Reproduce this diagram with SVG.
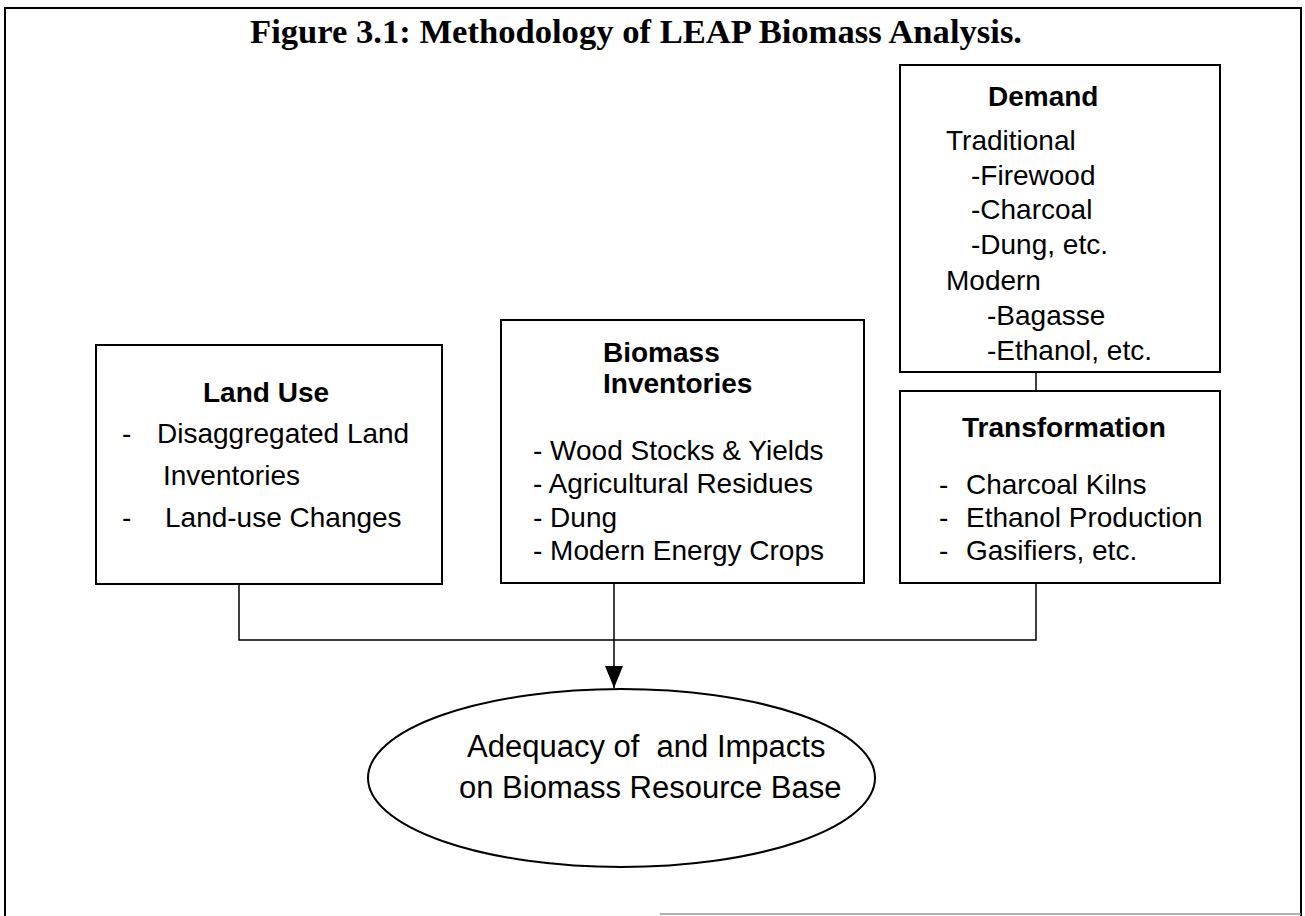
<svg xmlns="http://www.w3.org/2000/svg" width="1305" height="916" viewBox="0 0 1305 916">
<style>
.box{fill:#fff;stroke:#000;stroke-width:2}
.t{font-family:"Liberation Sans",Arial,sans-serif;font-size:28px;fill:#000}
.h{font-family:"Liberation Sans",Arial,sans-serif;font-size:28px;font-weight:bold;fill:#000}
.e{font-family:"Liberation Sans",Arial,sans-serif;font-size:31px;fill:#000}
.c{fill:none;stroke:#000;stroke-width:1.5}
</style>
<defs>
<marker id="arr" markerUnits="userSpaceOnUse" markerWidth="22" markerHeight="18" refX="22" refY="9" orient="auto" viewBox="0 0 22 18">
<path d="M0,0 L22,9 L0,18 Z" fill="#000"/>
</marker>
</defs>
<rect width="1305" height="916" fill="#fff"/>
<g id="frame" fill="none" stroke="#000">
<path d="M5,916 L5,8 L1301,8 L1301,916" stroke-width="2"/>
<path d="M660,914 L1301,914" stroke="#999" stroke-width="1.5"/>
</g>
<text x="250" y="43" font-family="'Liberation Serif','Times New Roman',serif" font-size="34" font-weight="bold" textLength="772" lengthAdjust="spacingAndGlyphs">Figure 3.1: Methodology of LEAP Biomass Analysis.</text>
<g id="connectors">
<path class="c" d="M1036,372 L1036,391"/>
<path class="c" d="M239,584 L239,640 L1036,640 L1036,583"/>
<path class="c" d="M614,583 L614,688" marker-end="url(#arr)"/>
</g>
<g id="landuse">
<rect class="box" x="96" y="345" width="346" height="239"/>
<text class="h" x="203" y="402">Land Use</text>
<text class="t" x="122" y="443">-</text>
<text class="t" x="157" y="443">Disaggregated Land</text>
<text class="t" x="163" y="485">Inventories</text>
<text class="t" x="122" y="527">-</text>
<text class="t" x="165" y="527">Land-use Changes</text>
</g>
<g id="biomass">
<rect class="box" x="501" y="320" width="363" height="263"/>
<text class="h" x="603" y="362">Biomass</text>
<text class="h" x="603" y="393">Inventories</text>
<text class="t" x="533" y="460">- Wood Stocks &amp; Yields</text>
<text class="t" x="533" y="493">- Agricultural Residues</text>
<text class="t" x="533" y="527">- Dung</text>
<text class="t" x="533" y="560">- Modern Energy Crops</text>
</g>
<g id="demand">
<rect class="box" x="900" y="65" width="320" height="307"/>
<text class="h" x="988" y="106">Demand</text>
<text class="t" x="946" y="150">Traditional</text>
<text class="t" x="971" y="185">-Firewood</text>
<text class="t" x="971" y="219">-Charcoal</text>
<text class="t" x="971" y="254">-Dung, etc.</text>
<text class="t" x="946" y="290">Modern</text>
<text class="t" x="987" y="325">-Bagasse</text>
<text class="t" x="987" y="360">-Ethanol, etc.</text>
</g>
<g id="transformation">
<rect class="box" x="900" y="391" width="320" height="192"/>
<text class="h" x="962" y="437">Transformation</text>
<text class="t" x="939" y="494">-</text>
<text class="t" x="966" y="494">Charcoal Kilns</text>
<text class="t" x="939" y="527">-</text>
<text class="t" x="966" y="527">Ethanol Production</text>
<text class="t" x="939" y="560">-</text>
<text class="t" x="966" y="560">Gasifiers, etc.</text>
</g>
<g id="outcome">
<ellipse cx="621.5" cy="778" rx="253.5" ry="89" fill="#fff" stroke="#000" stroke-width="2"/>
<text class="e" x="467" y="757" xml:space="preserve">Adequacy of  and Impacts</text>
<text class="e" x="459" y="798">on Biomass Resource Base</text>
</g>
</svg>
